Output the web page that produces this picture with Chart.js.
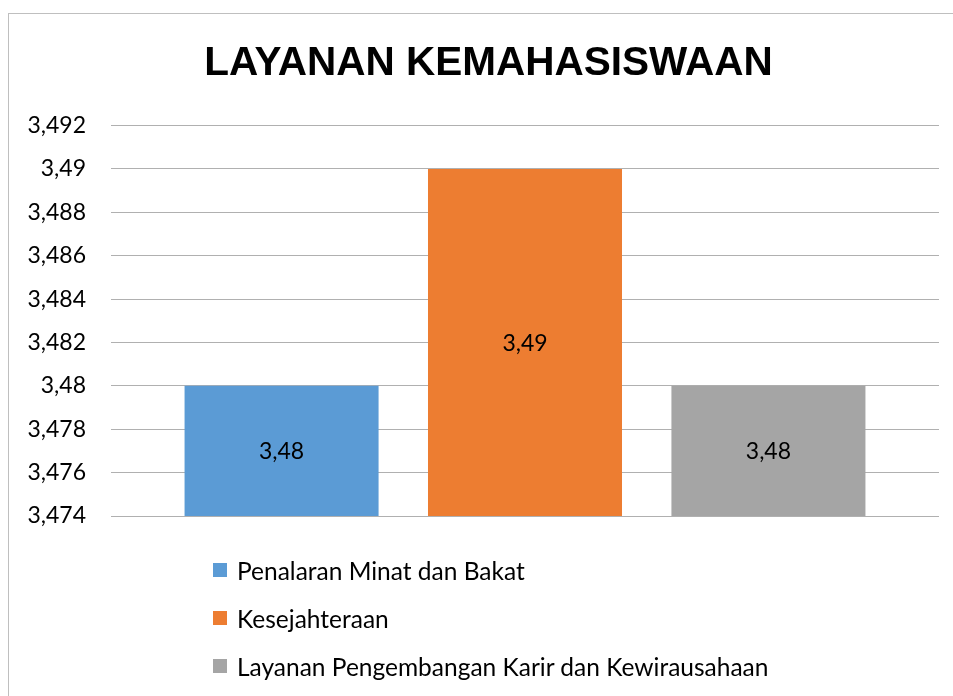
<!DOCTYPE html>
<html>
<head>
<meta charset="utf-8">
<script src="https://cdn.jsdelivr.net/npm/chart.js@4/dist/chart.umd.min.js"></script>
<style>
  body { margin: 0; background: #fff; }
  #wrap { position: relative; width: 953px; height: 696px; overflow: hidden; }
  #frame {
    position: absolute; left: 8px; top: 13px; width: 960px; height: 700px;
    border-left: 1px solid #bfbfbf; border-top: 1px solid #bfbfbf;
  }
  canvas { position: absolute; left: 0; top: 0; }
  #legend { position: absolute; left: 213px; top: 546px; font-family: Lato, "Liberation Sans", sans-serif; font-size: 24.5px; color: #000; }
  .item { display: flex; align-items: center; height: 48px; }
  .box { width: 14px; height: 14px; margin-right: 10px; }
</style>
</head>
<body>
<div id="wrap">
  <div id="frame"></div>
  <canvas id="myChart" width="953" height="696"></canvas>
  <div id="legend"></div>
</div>
<script>
const categories = ["Penalaran Minat dan Bakat", "Kesejahteraan", "Layanan Pengembangan Karir dan Kewirausahaan"];
const values = [3.48, 3.49, 3.48];
const colors = ["#5B9BD5", "#ED7D31", "#A5A5A5"];
const yMin = 3.474;
const yMax = 3.492;
const yStep = 0.002;

// angka pakai koma desimal
function fmt(v) {
  return String(+Number(v).toFixed(3)).replace(".", ",");
}

// label nilai di tengah batang + geser judul sedikit ke kanan
const barLabels = {
  id: "barLabels",
  afterLayout(chart) {
    const t = chart.titleBlock;
    if (t) {
      t.left += 38;
      t.width -= 38;
    }
  },
  afterDraw(chart) {
    const c = chart.ctx;
    const yAxis = chart.scales.y;
    c.save();
    c.font = "23px Lato, sans-serif";
    c.fillStyle = "#000";
    c.textAlign = "center";
    c.textBaseline = "middle";
    chart.data.datasets.forEach((ds, i) => {
      chart.getDatasetMeta(i).data.forEach((bar, j) => {
        const top = yAxis.getPixelForValue(ds.data[j]);
        c.fillText(fmt(ds.data[j]), bar.x, (top + yAxis.bottom) / 2 + 1);
      });
    });
    c.restore();
  },
};

const chartCtx = document.getElementById("myChart").getContext("2d");
new Chart(chartCtx, {
  type: "bar",
  data: {
    labels: [""],
    datasets: categories.map((name, i) => ({
      label: name,
      data: [values[i]],
      backgroundColor: colors[i],
      categoryPercentage: 0.882,
      barPercentage: 0.797,
    })),
  },
  options: {
    responsive: false,
    animation: false,
    layout: { padding: { left: 0, right: 14, top: 0, bottom: 180 } },
    plugins: {
      legend: { display: false },
      tooltip: { enabled: false },
      title: {
        display: true,
        text: "LAYANAN KEMAHASISWAAN",
        color: "#000",
        font: { family: "'Liberation Sans', Arial, sans-serif", size: 40.5, weight: "bold", lineHeight: 1.2 },
        padding: { top: 40, bottom: 37 },
      },
    },
    scales: {
      x: { display: false },
      y: {
        min: yMin,
        max: yMax,
        afterFit: (scale) => { scale.width = 111; },
        border: { display: false },
        grid: { color: "#b0b0b0", drawTicks: false },
        ticks: {
          stepSize: yStep,
          padding: 25,
          color: "#000",
          font: { family: "Lato, 'Liberation Sans', sans-serif", size: 23 },
          callback: (v) => fmt(v),
        },
      },
    },
  },
  plugins: [barLabels],
});

// legenda vertikal di bawah
const legend = document.getElementById("legend");
categories.forEach((name, i) => {
  const row = document.createElement("div");
  row.className = "item";
  const box = document.createElement("span");
  box.className = "box";
  box.style.background = colors[i];
  const txt = document.createElement("span");
  txt.textContent = name;
  row.appendChild(box);
  row.appendChild(txt);
  legend.appendChild(row);
});
</script>
</body>
</html>
